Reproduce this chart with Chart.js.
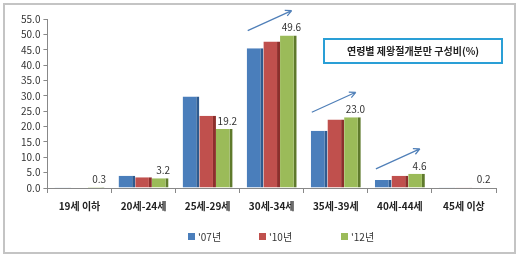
<!DOCTYPE html>
<html>
<head>
<meta charset="utf-8">
<script src="https://cdn.jsdelivr.net/npm/chart.js@4.4.0/dist/chart.umd.min.js"></script>
<style>
  html, body { margin: 0; padding: 0; background: #fff; }
  #wrap { width: 520px; height: 258px; position: relative; }
</style>
</head>
<body>
<div id="wrap"><canvas id="ageChart" width="520" height="258"></canvas></div>
<script>
// 연령별 제왕절개분만 구성비 데이터
const categories = ['19세 이하', '20세-24세', '25세-29세', '30세-34세', '35세-39세', '40세-44세', '45세 이상'];
const seriesNames = ["'07년", "'10년", "'12년"];
const values07 = [0.1, 4.0, 29.8, 45.5, 18.6, 2.6, 0.1];
const values10 = [0.2, 3.5, 23.5, 47.7, 22.3, 4.0, 0.1];
const values12 = [0.3, 3.2, 19.2, 49.6, 23.0, 4.6, 0.2];
const arrowAt = [3, 4, 5]; // 화살표가 있는 항목
const yTicks = [0, 5, 10, 15, 20, 25, 30, 35, 40, 45, 50, 55];

const FONT = "'Noto Sans CJK KR', 'Noto Sans', sans-serif";

// 바깥 테두리, 제목 박스, 범례
const framePlugin = {
  id: 'frame',
  beforeDraw(chart) {
    const ctx = chart.ctx;
    ctx.save();
    ctx.strokeStyle = '#c4c4c4';
    ctx.lineWidth = 2;
    ctx.strokeRect(4, 4, chart.width - 9, chart.height - 9);
    ctx.restore();
  },
  afterDraw(chart) {
    const ctx = chart.ctx;
    ctx.save();
    ctx.strokeStyle = '#2a9fd6';
    ctx.lineWidth = 2;
    ctx.strokeRect(324, 39, 178, 24);
    ctx.fillStyle = '#222';
    ctx.font = 'bold 10px ' + FONT;
    ctx.textAlign = 'center';
    ctx.textBaseline = 'middle';
    ctx.fillText('연령별 제왕절개분만 구성비(%)', 413, 51);

    // 범례
    const legendX = [188, 259, 341];
    ctx.font = '10px ' + FONT;
    ctx.textAlign = 'left';
    chart.data.datasets.forEach((ds, i) => {
      ctx.fillStyle = ds.backgroundColor;
      ctx.fillRect(legendX[i], 233, 7, 7);
      ctx.fillStyle = '#333';
      ctx.fillText(ds.label, legendX[i] + 10, 237);
    });
    ctx.restore();
  }
};

// '12년 값 라벨과 증가 화살표
const labelPlugin = {
  id: 'labels12',
  afterDatasetsDraw(chart) {
    const ctx = chart.ctx;
    const meta = chart.getDatasetMeta(2);
    const xs = chart.scales.x;
    const ys = chart.scales.y;
    ctx.save();
    ctx.fillStyle = '#333';
    ctx.font = '10px ' + FONT;
    ctx.textAlign = 'center';
    ctx.textBaseline = 'bottom';
    meta.data.forEach((bar, i) => {
      ctx.fillText(values12[i].toFixed(1), bar.x + 3, bar.y - 3);
    });
    ctx.strokeStyle = '#4f7fb8';
    ctx.lineWidth = 1.2;
    arrowAt.forEach(i => {
      const c = xs.getPixelForValue(i);
      const top = ys.getPixelForValue(values12[i]);
      const x1 = c - 24, y1 = top - 5, x2 = c + 20, y2 = top - 25;
      ctx.beginPath();
      ctx.moveTo(x1, y1);
      ctx.lineTo(x2, y2);
      const a = Math.atan2(y2 - y1, x2 - x1);
      ctx.moveTo(x2, y2);
      ctx.lineTo(x2 - 7 * Math.cos(a - 0.45), y2 - 7 * Math.sin(a - 0.45));
      ctx.moveTo(x2, y2);
      ctx.lineTo(x2 - 7 * Math.cos(a + 0.45), y2 - 7 * Math.sin(a + 0.45));
      ctx.stroke();
    });
    ctx.restore();
  }
};

const ChartA = document.getElementById('ageChart');
const ageChart = new Chart(ChartA, {
  type: 'bar',
  data: {
    labels: categories,
    datasets: [{
      label: seriesNames[0],
      data: values07,
      backgroundColor: '#4a7ebb',
      borderColor: '#2f5b8f',
      borderWidth: { right: 3, top: 0, left: 0, bottom: 0 },
      borderSkipped: false
    },
    {
      label: seriesNames[1],
      data: values10,
      backgroundColor: '#c0504d',
      borderColor: '#8c2f2c',
      borderWidth: { right: 3, top: 0, left: 0, bottom: 0 },
      borderSkipped: false
    },
    {
      label: seriesNames[2],
      data: values12,
      backgroundColor: '#9bbb59',
      borderColor: '#5f7a2c',
      borderWidth: { right: 3, top: 0, left: 0, bottom: 0 },
      borderSkipped: false
    }]
  },
  options: {
    responsive: false,
    animation: false,
    layout: { padding: { left: 18, right: 24, top: 19, bottom: 39 } },
    datasets: {
      bar: { categoryPercentage: 0.78, barPercentage: 1.0 }
    },
    scales: {
      x: {
        grid: { drawOnChartArea: false, color: '#888', tickLength: 5, offset: true },
        border: { color: '#888' },
        ticks: { color: '#222', font: { family: FONT, size: 10, weight: 'bold' }, padding: 7, maxRotation: 0 }
      },
      y: {
        min: 0,
        max: 55,
        afterBuildTicks(axis) { axis.ticks = yTicks.map(v => ({ value: v })); },
        grid: { drawOnChartArea: false, color: '#888', tickLength: 4 },
        border: { color: '#888' },
        ticks: {
          autoSkip: false,
          color: '#333',
          font: { family: FONT, size: 10 },
          padding: 3,
          callback: v => Number(v).toFixed(1)
        }
      }
    },
    plugins: {
      legend: { display: false },
      title: { display: false },
      tooltip: { enabled: false }
    }
  },
  plugins: [framePlugin, labelPlugin]
});
</script>
</body>
</html>
